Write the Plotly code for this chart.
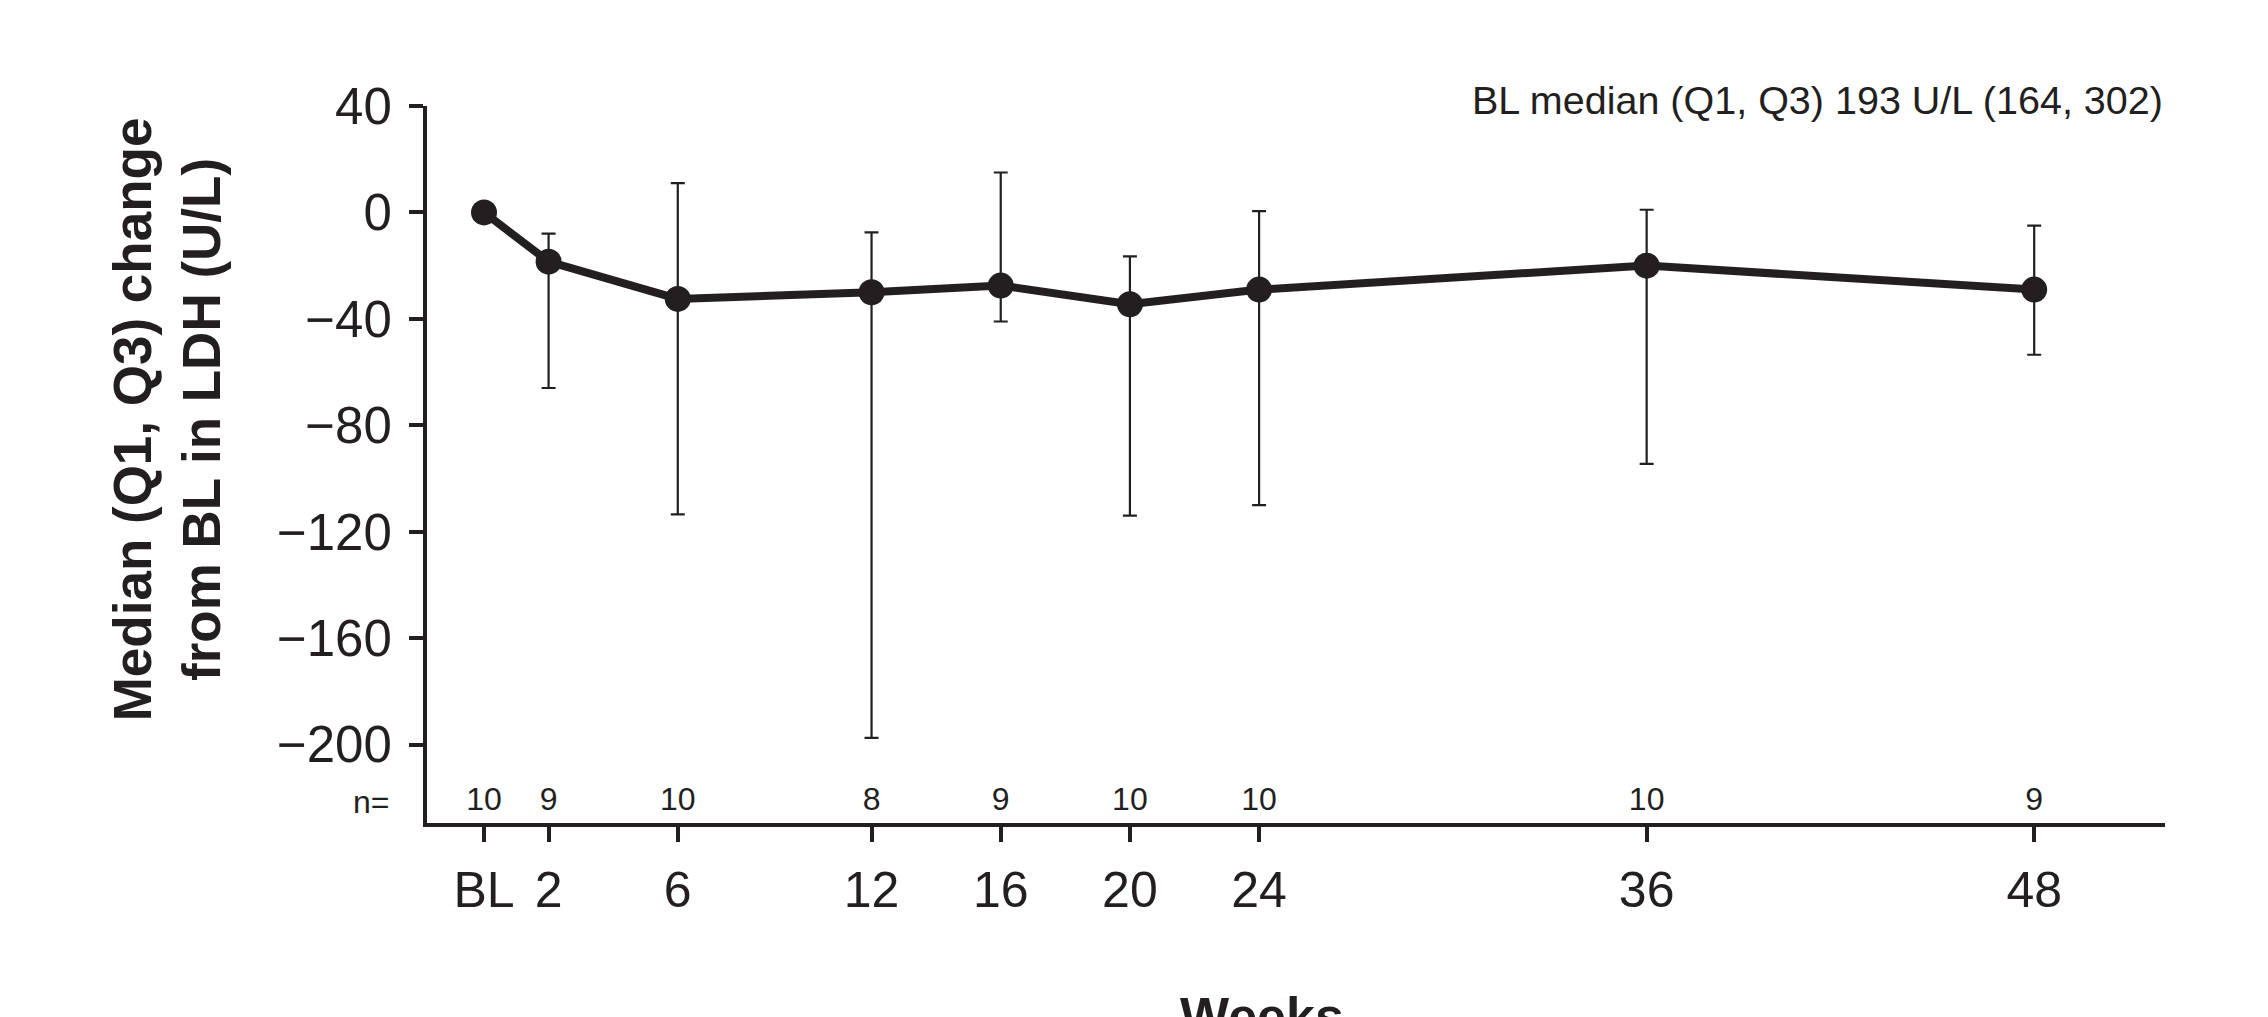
import plotly.graph_objects as go

# ---- data ----
weeks = [0, 2, 6, 12, 16, 20, 24, 36, 48]
week_labels = ["BL", "2", "6", "12", "16", "20", "24", "36", "48"]
median_change = [0, -18.5, -32.5, -30, -27.5, -34.5, -29, -20, -29]
q1_change = [None, -66, -113.5, -197.5, -41, -114, -110, -94.5, -53.5]
q3_change = [None, -8, 11, -7.5, 15, -16.5, 0.5, 1, -5]
n_counts = [10, 9, 10, 8, 9, 10, 10, 10, 9]
y_ticks = [40, 0, -40, -80, -120, -160, -200]
n_row_y = -221.5

INK = "#231f20"
FONT = "Liberation Sans, Arial, Helvetica, sans-serif"

err_plus = [None if q is None else q - m for q, m in zip(q3_change, median_change)]
err_minus = [None if q is None else m - q for q, m in zip(q1_change, median_change)]

fig = go.Figure()

fig.add_trace(go.Scatter(
    x=weeks, y=median_change,
    mode="lines+markers",
    line=dict(color=INK, width=8),
    marker=dict(color=INK, size=26),
    error_y=dict(type="data", symmetric=False, array=err_plus, arrayminus=err_minus,
                 color=INK, thickness=2.2, width=7),
    showlegend=False, hoverinfo="skip",
))

fig.add_trace(go.Scatter(
    x=weeks, y=[n_row_y] * len(weeks),
    mode="text", text=[str(n) for n in n_counts],
    textfont=dict(family=FONT, size=32, color=INK),
    textposition="middle center",
    showlegend=False, hoverinfo="skip",
))

# page body has an 8px margin, so the figure is sized to fit the window
fig.update_layout(
    width=2260, height=1009,
    margin=dict(l=419, r=103, t=98, b=194),
    paper_bgcolor="white", plot_bgcolor="white",
    font=dict(family=FONT, color=INK),
)

fig.update_xaxes(
    range=[-1.765, 52.05],
    tickvals=weeks, ticktext=week_labels,
    tickfont=dict(family=FONT, size=50, color=INK),
    showgrid=False, zeroline=False,
    showline=True, linecolor=INK, linewidth=4,
    ticks="outside", ticklen=15, tickwidth=4, tickcolor=INK,
    ticklabelstandoff=5,
)
fig.update_yaxes(
    range=[-229.5, 40],
    tickvals=y_ticks,
    tickfont=dict(family=FONT, size=51, color=INK),
    showgrid=False, zeroline=False,
    showline=True, linecolor=INK, linewidth=4,
    ticks="outside", ticklen=14, tickwidth=4, tickcolor=INK,
    ticklabelstandoff=7,
)

fig.add_annotation(
    text="BL median (Q1, Q3) 193 U/L (164, 302)",
    xref="paper", yref="paper", x=1.0, y=1.0077,
    xanchor="right", yanchor="middle", showarrow=False,
    font=dict(family=FONT, size=39.5, color=INK),
)
fig.add_annotation(
    text="n=",
    xref="paper", yref="y", x=-0.0207, y=n_row_y,
    xanchor="right", yanchor="middle", showarrow=False,
    font=dict(family=FONT, size=32, color=INK),
)
fig.add_annotation(
    text="<b>Median (Q1, Q3) change</b><br><b>from BL in LDH (U/L)</b>",
    xref="paper", yref="paper", x=-0.1496, y=0.563,
    xanchor="center", yanchor="middle", showarrow=False, textangle=-90,
    font=dict(family=FONT, size=53, color=INK),
)
fig.add_annotation(
    text="<b>Weeks</b>",
    xref="paper", yref="paper", x=0.4805, y=-0.2264,
    xanchor="center", yanchor="top", showarrow=False,
    font=dict(family=FONT, size=52, color=INK),
)

fig.write_html("out.html")
